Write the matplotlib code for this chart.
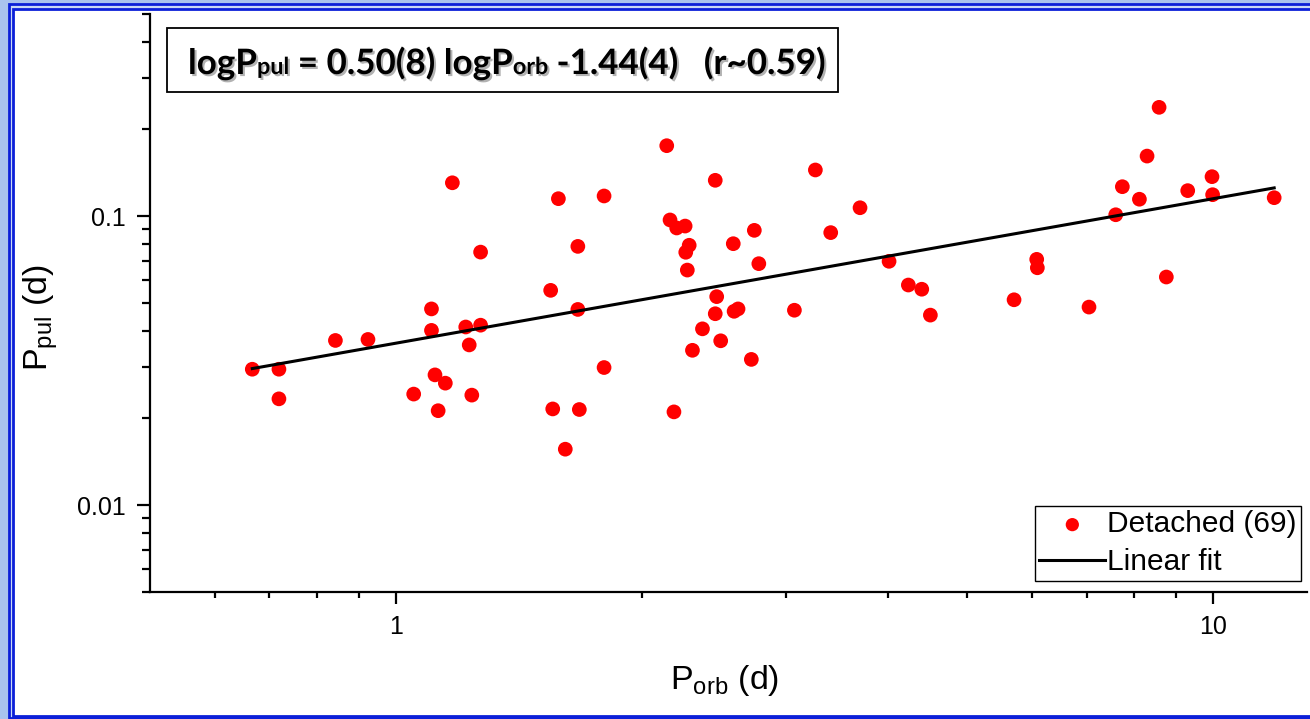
import matplotlib
matplotlib.use("Agg")
import matplotlib.pyplot as plt
from matplotlib.patches import Rectangle
from matplotlib.ticker import FixedLocator, LogLocator, NullFormatter, FixedFormatter
import matplotlib.patheffects as pe
import numpy as np

# Orbital period (d) and pulsation period (d) of detached systems
P_orb = [1.172, 1.580, 1.269, 1.669, 2.144, 1.797, 2.458, 3.259, 3.696, 2.164,
         2.205, 2.258, 2.284, 2.262, 2.272, 2.586, 2.744, 2.779, 3.403, 4.011,
         4.235, 8.583, 8.297, 7.739, 8.120, 7.596, 9.304, 9.963, 9.980, 11.87,
         6.080, 6.091, 8.760, 0.667, 0.719, 0.719, 0.843, 0.924, 1.105, 1.105,
         1.217, 1.269, 1.229, 1.546, 1.669, 1.116, 1.149, 1.051, 1.238, 1.126,
         1.555, 1.676, 1.611, 1.797, 2.188, 2.468, 2.458, 2.592, 2.621, 2.371,
         2.496, 2.305, 2.721, 3.072, 4.398, 4.506, 5.704, 7.045]
P_pul = [0.1303, 0.1148, 0.0750, 0.0785, 0.1751, 0.1173, 0.1329, 0.1443, 0.1068, 0.0969,
         0.0909, 0.0923, 0.0792, 0.0749, 0.0650, 0.0802, 0.0892, 0.0684, 0.0876, 0.0697,
         0.0577, 0.2377, 0.1612, 0.1263, 0.1143, 0.1010, 0.1224, 0.1368, 0.1185, 0.1157,
         0.0708, 0.0662, 0.0615, 0.0295, 0.0295, 0.0233, 0.0371, 0.0374, 0.0477, 0.0402,
         0.0413, 0.0419, 0.0358, 0.0553, 0.0475, 0.0282, 0.0264, 0.0242, 0.0240, 0.0212,
         0.0215, 0.0214, 0.0156, 0.0299, 0.0210, 0.0526, 0.0459, 0.0468, 0.0477, 0.0407,
         0.0370, 0.0343, 0.0319, 0.0472, 0.0558, 0.0454, 0.0513, 0.0484]

# log P_pul = slope * log P_orb + intercept
fit_slope = 0.50
fit_intercept = -1.44

x_ticks = [1, 10]
x_ticklabels = ["1", "10"]
x_minor = [0.6, 0.7, 0.8, 0.9, 2, 3, 4, 5, 6, 7, 8, 9]
y_ticks = [0.01, 0.1]
y_ticklabels = ["0.01", "0.1"]

W, H = 1310, 719
plt.rcParams["font.family"] = ["Liberation Sans", "DejaVu Sans"]
plt.rcParams["mathtext.fontset"] = "custom"
plt.rcParams["mathtext.rm"] = "Liberation Sans"

fig = plt.figure(figsize=(W / 100, H / 100), dpi=100)
fig.patch.set_facecolor("#a9c3ee")


def fx(px):
    return px / W


def fy(py):
    return 1 - py / H


# slide frame: double dark-blue line around a white panel
fig.patches.append(Rectangle((fx(8.5), fy(718)), fx(W + 20) - fx(8.5), fy(3.5) - fy(718),
                             transform=fig.transFigure, facecolor="#c9d8f5",
                             edgecolor="#0b1fd8", lw=2.0, zorder=-3))
fig.patches.append(Rectangle((fx(13), fy(716)), fx(W + 20) - fx(13), fy(8.5) - fy(716),
                             transform=fig.transFigure, facecolor="white",
                             edgecolor="#0b1fd8", lw=2.0, zorder=-2))

ax = fig.add_axes([fx(150), fy(592), fx(1307) - fx(150), fy(14) - fy(592)])
ax.set_facecolor("none")
ax.set_xscale("log")
ax.set_yscale("log")
ax.set_xlim(0.5, 13.02)
ax.set_ylim(0.005, 0.5)

for side in ("top", "right"):
    ax.spines[side].set_visible(False)
for side in ("left", "bottom"):
    ax.spines[side].set_linewidth(1.6)

ax.xaxis.set_major_locator(FixedLocator(x_ticks))
ax.xaxis.set_major_formatter(FixedFormatter(x_ticklabels))
ax.xaxis.set_minor_locator(FixedLocator(x_minor))
ax.xaxis.set_minor_formatter(NullFormatter())
ax.yaxis.set_major_locator(FixedLocator(y_ticks))
ax.yaxis.set_major_formatter(FixedFormatter(y_ticklabels))
ax.yaxis.set_minor_locator(LogLocator(base=10, subs=np.arange(2, 10)))
ax.yaxis.set_minor_formatter(NullFormatter())

ax.tick_params(axis="both", which="major", direction="out", width=1.6, labelsize=18, pad=8)
ax.tick_params(axis="x", which="major", length=8.5)
ax.tick_params(axis="y", which="major", length=9.5)
ax.tick_params(axis="x", which="minor", direction="out", width=1.6, length=4.5)
ax.tick_params(axis="y", which="minor", direction="out", width=1.6, length=5.5)

ax.scatter(P_orb, P_pul, s=112, color="#ff0000", edgecolors="none", zorder=3,
           label="Detached (69)")

fit_x = np.array([min(P_orb), max(P_orb)])
fit_y = 10 ** (fit_slope * np.log10(fit_x) + fit_intercept)
ax.plot(fit_x, fit_y, color="black", lw=2.2, zorder=4, label="Linear fit")

# axis titles
fig.text(fx(725), fy(689), r"$\mathregular{P_{orb}}$ (d)", fontsize=24.5,
         ha="center", va="baseline")
fig.text(fx(48), fy(318), r"$\mathregular{P_{pul}}$ (d)", fontsize=24.5,
         ha="center", va="baseline", rotation=90, rotation_mode="anchor")

leg = ax.legend(loc="upper left", bbox_to_anchor=(fx(1035), fy(506)),
                bbox_transform=fig.transFigure, fontsize=21.5, frameon=True,
                fancybox=False, edgecolor="black", borderpad=0.15,
                handlelength=2.2, handletextpad=0.05, labelspacing=0.32,
                borderaxespad=0, markerscale=0.9)
leg.get_frame().set_linewidth(1.0)
leg.get_frame().set_alpha(1)

# equation box
fig.patches.append(Rectangle((fx(167), fy(92)), fx(838) - fx(167), fy(28) - fy(92),
                             transform=fig.transFigure, facecolor="white",
                             edgecolor="black", lw=1.3, zorder=5))

pieces = [("logP", 25.2), ("pul", 16.8), (" = 0.50(8) logP", 25.2), ("orb", 16.8),
          (" -1.44(4)   (r~0.59)", 25.2)]
shadow = [pe.withSimplePatchShadow(offset=(1.5, -1.5), shadow_rgbFace="#7f7f7f", alpha=0.6)]
fig.canvas.draw()
renderer = fig.canvas.get_renderer()
cur_x = 188
base_y = 74
for txt, size in pieces:
    t = fig.text(fx(cur_x), fy(base_y), txt, fontsize=size, fontweight="bold",
                 family=["Lato", "DejaVu Sans"], va="baseline", ha="left",
                 zorder=6, path_effects=shadow)
    bb = t.get_window_extent(renderer)
    cur_x += bb.width

fig.savefig("out.png", dpi=100, facecolor=fig.get_facecolor())
